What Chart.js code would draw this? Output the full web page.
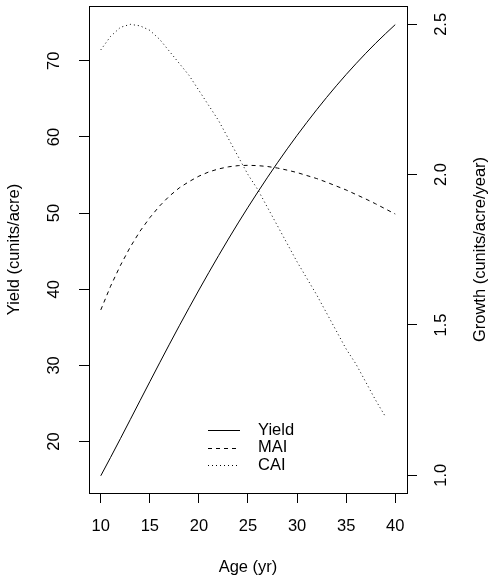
<!DOCTYPE html>
<html lang="en">
<head>
    <meta charset="UTF-8">
    <title>Yield, MAI and CAI</title>
    <script src="https://cdn.jsdelivr.net/npm/chart.js@4.4.0/dist/chart.umd.min.js"></script>
    <style>
        body { margin: 0; background: #fff; }
        canvas { display: block; }
    </style>
</head>
<body>
<canvas id="myChart" width="493" height="579"></canvas>
<script>
    // data
    const ages = [10, 11, 12, 13, 14, 15, 16, 17, 18, 19, 20, 21, 22, 23, 24, 25,
        26, 27, 28, 29, 30, 31, 32, 33, 34, 35, 36, 37, 38, 39, 40];
    const yieldVals = [15.50, 17.92, 20.38, 22.87, 25.37, 27.86, 30.34, 32.79, 35.20, 37.57,
        39.90, 42.18, 44.41, 46.59, 48.71, 50.77, 52.77, 54.72, 56.61, 58.44,
        60.21, 61.92, 63.58, 65.18, 66.72, 68.20, 69.62, 70.99, 72.30, 73.55, 74.75];
    const maiVals = [1.550, 1.629, 1.698, 1.759, 1.812, 1.857, 1.896, 1.929, 1.956, 1.977,
        1.995, 2.009, 2.019, 2.026, 2.030, 2.031, 2.030, 2.027, 2.022, 2.015,
        2.007, 1.997, 1.987, 1.975, 1.962, 1.949, 1.934, 1.919, 1.903, 1.886, 1.869];
    const caiAges = [10, 11, 12, 13, 14, 15, 16, 17, 18, 19, 20, 21, 22, 23, 24,
        25, 26, 27, 28, 29, 30, 31, 32, 33, 34, 35, 36, 37, 38, 39];
    const caiVals = [2.415, 2.46, 2.49, 2.50, 2.495, 2.48, 2.45, 2.41, 2.37, 2.33,
        2.28, 2.23, 2.18, 2.12, 2.06, 2.00, 1.95, 1.89, 1.83, 1.77,
        1.71, 1.655, 1.60, 1.54, 1.48, 1.42, 1.37, 1.31, 1.25, 1.195];

    const xTicks = [10, 15, 20, 25, 30, 35, 40];
    const yieldTicks = [20, 30, 40, 50, 60, 70];
    const growthTicks = [1.0, 1.5, 2.0, 2.5];
    const seriesNames = ['Yield', 'MAI', 'CAI'];
    const seriesDash = [[], [4, 4], [1, 3]];

    const FONT = '16.5px "Liberation Sans", Arial, Helvetica, sans-serif';

    function pts(xs, ys) {
        return xs.map((x, i) => ({x: x, y: ys[i]}));
    }

    function setTicks(list) {
        return function (scale) {
            scale.ticks = list.map(v => ({value: v}));
        };
    }

    // R style text: box, rotated y labels, titles, legend
    const rAxes = {
        id: 'rAxes',
        afterDraw(chart) {
            const ctx = chart.ctx;
            const a = chart.chartArea;
            const sx = chart.scales.x, sy = chart.scales.y, sy1 = chart.scales.y1;
            ctx.save();
            ctx.strokeStyle = '#000';
            ctx.lineWidth = 1;
            ctx.strokeRect(Math.round(a.left) + 0.5, Math.round(a.top) + 0.5,
                Math.round(a.right - a.left), Math.round(a.bottom - a.top));

            ctx.fillStyle = '#000';
            ctx.font = FONT;
            ctx.textAlign = 'center';
            ctx.textBaseline = 'middle';

            xTicks.forEach(v => ctx.fillText(String(v), sx.getPixelForValue(v), 526.5));
            ctx.fillText('Age (yr)', (a.left + a.right) / 2, 567.5);

            function vtext(txt, x, y) {
                ctx.save();
                ctx.translate(x, y);
                ctx.rotate(-Math.PI / 2);
                ctx.fillText(txt, 0, 0);
                ctx.restore();
            }
            const midY = (a.top + a.bottom) / 2;
            yieldTicks.forEach(v => vtext(String(v), 54.5, sy.getPixelForValue(v)));
            vtext('Yield (cunits/acre)', 14, midY);
            growthTicks.forEach(v => vtext(v.toFixed(1), 441.5, sy1.getPixelForValue(v)));
            vtext('Growth (cunits/acre/year)', 480.5, midY);

            // legend
            ctx.textAlign = 'left';
            seriesNames.forEach((name, i) => {
                const y = 430 + i * 17.5;
                ctx.beginPath();
                ctx.setLineDash(seriesDash[i]);
                ctx.moveTo(208, Math.round(y) + 0.5);
                ctx.lineTo(240, Math.round(y) + 0.5);
                ctx.stroke();
                ctx.setLineDash([]);
                ctx.fillText(name, 258, y);
            });
            ctx.restore();
        }
    };

    const axisCommon = {
        grid: {drawOnChartArea: false, drawTicks: true, tickLength: 10, color: '#000', lineWidth: 1},
        border: {color: '#000', width: 1},
        ticks: {display: false}
    };

    const ctx = document.getElementById('myChart').getContext('2d');
    const chart = new Chart(ctx, {
        type: 'line',
        data: {
            datasets: [{
                label: seriesNames[0],
                data: pts(ages, yieldVals),
                yAxisID: 'y',
                borderColor: '#000',
                borderWidth: 1,
                borderDash: seriesDash[0],
                pointRadius: 0,
                tension: 0
            }, {
                label: seriesNames[1],
                data: pts(ages, maiVals),
                yAxisID: 'y1',
                borderColor: '#000',
                borderWidth: 1,
                borderDash: seriesDash[1],
                pointRadius: 0,
                tension: 0
            }, {
                label: seriesNames[2],
                data: pts(caiAges, caiVals),
                yAxisID: 'y1',
                borderColor: '#000',
                borderWidth: 1,
                borderDash: seriesDash[2],
                pointRadius: 0,
                tension: 0
            }]
        },
        options: {
            responsive: false,
            animation: false,
            devicePixelRatio: 1,
            layout: {padding: {top: 6, left: 0, right: 0, bottom: 0}},
            plugins: {legend: {display: false}, tooltip: {enabled: false}},
            scales: {
                x: Object.assign({}, axisCommon, {
                    type: 'linear', position: 'bottom', min: 8.8, max: 41.2,
                    afterBuildTicks: setTicks(xTicks),
                    afterFit: s => { s.height = 86; }
                }),
                y: Object.assign({}, axisCommon, {
                    type: 'linear', position: 'left', min: 13.24, max: 77.2,
                    afterBuildTicks: setTicks(yieldTicks),
                    afterFit: s => { s.width = 89; }
                }),
                y1: Object.assign({}, axisCommon, {
                    type: 'linear', position: 'right', min: 0.941, max: 2.561,
                    afterBuildTicks: setTicks(growthTicks),
                    afterFit: s => { s.width = 86; }
                })
            }
        },
        plugins: [rAxes]
    });
</script>
</body>
</html>
